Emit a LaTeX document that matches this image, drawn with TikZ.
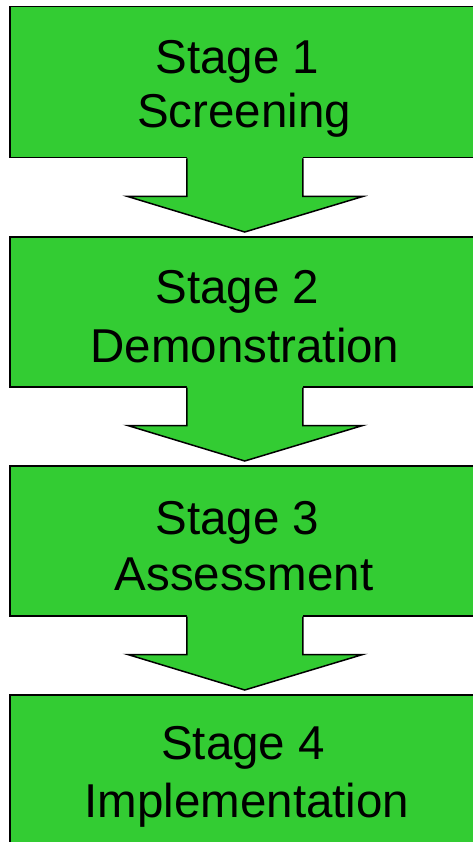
\documentclass[tikz,border=0pt]{standalone}
\usepackage{fontspec}
\setmainfont{Liberation Sans}
\usetikzlibrary{calc}
\definecolor{stagegreen}{RGB}{51,204,51}
\begin{document}
\begin{tikzpicture}[x=1pt,y=-1pt,
  stagebox/.style={draw=black,line width=1.5pt,fill=stagegreen,rectangle,
    minimum width=520pt,minimum height=151pt,inner sep=0pt,anchor=north west},
  stagetext/.style={font=\fontsize{47.5}{56}\selectfont,anchor=base,inner sep=0pt,text=black},
  blockline/.style={draw=black,line width=1.5pt,line join=miter}]
\useasboundingbox (0,0) rectangle (472,842);
\node[stagebox] (b1) at (9,6) {};
\node[stagebox,minimum height=150pt] (b2) at (9,236) {};
\node[stagebox,minimum height=150pt] (b3) at (9,465) {};
\node[stagebox,minimum height=160pt] (b4) at (9,694) {};
% block arrows
\foreach \a/\b in {b1/b2,b2/b3,b3/b4}{
  \coordinate (top) at ($(\a.south)+(-25,0)$);
  \coordinate (tip) at ($(\b.north)+(-25,-4)$);
  \fill[stagegreen] ($(top)+(-58,-2)$) -- ($(top)+(-58,38)$) -- ($(top)+(-117,38)$) -- (tip)
     -- ($(top)+(118,38)$) -- ($(top)+(58,38)$) -- ($(top)+(58,-2)$) -- cycle;
  \draw[blockline] ($(top)+(-58,0)$) -- ($(top)+(-58,38)$) -- ($(top)+(-117,38)$) -- (tip)
     -- ($(top)+(118,38)$) -- ($(top)+(58,38)$) -- ($(top)+(58,0)$);
}
\node[stagetext] (s1) at (237.5,74) {Stage 1};
\node[stagetext] (n1) at (244,128) {Screening};
\node[stagetext] (s2) at (237.5,303) {Stage 2};
\node[stagetext] (n2) at (245,362) {Demonstration};
\node[stagetext] (s3) at (237.5,534) {Stage 3};
\node[stagetext] (n3) at (244,590) {Assessment};
\node[stagetext] (s4) at (243,759) {Stage 4};
\node[stagetext] (n4) at (247,817) {Implementation};
\end{tikzpicture}
\end{document}
